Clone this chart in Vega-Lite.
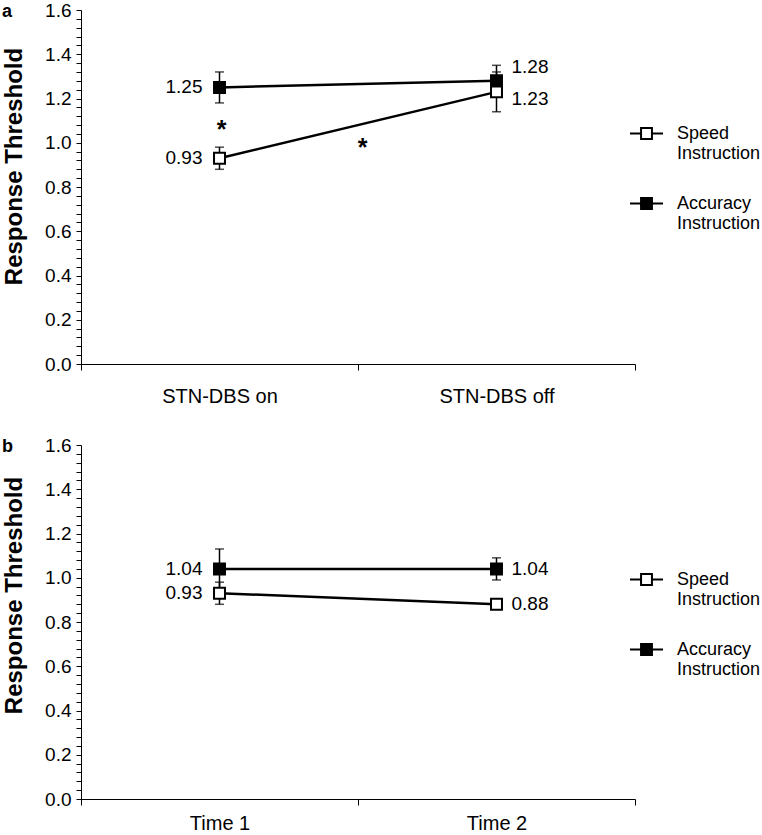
{
  "$schema": "https://vega.github.io/schema/vega-lite/v6.json",
  "padding": {"left": 2, "top": 1, "right": 0, "bottom": 0},
  "spacing": 30,
  "config": {
    "view": {"stroke": null},
    "font": "Liberation Sans",
    "axis": {
      "domainColor": "black", "tickColor": "black", "labelColor": "black", "titleColor": "black",
      "grid": false, "labelFont": "Liberation Sans", "titleFont": "Liberation Sans",
      "labelFontSize": 19, "domainWidth": 1, "tickWidth": 1
    },
    "legend": {
      "labelFont": "Liberation Sans", "labelFontSize": 18, "labelColor": "black"
    }
  },
  "resolve": {
    "scale": {"x": "independent", "y": "independent", "fill": "independent"},
    "legend": {"fill": "independent"}
  },
  "vconcat": [
    {
      "width": 554, "height": 354,
      "title": {"text": "a", "anchor": "start", "frame": "group", "orient": "top", "offset": -20, "dx": -79, "fontSize": 18, "fontWeight": "bold", "font": "Liberation Sans", "color": "black"},
      "data": {"values": [
        {"cond": "STN-DBS on", "instr": "Accuracy Instruction", "v": 1.25, "lo": 1.18, "hi": 1.32},
        {"cond": "STN-DBS off", "instr": "Accuracy Instruction", "v": 1.28, "lo": 1.21, "hi": 1.35},
        {"cond": "STN-DBS on", "instr": "Speed Instruction", "v": 0.93, "lo": 0.88, "hi": 0.98},
        {"cond": "STN-DBS off", "instr": "Speed Instruction", "v": 1.23, "lo": 1.14, "hi": 1.32}
      ]},
      "encoding": {
        "x": {"field": "cond", "type": "nominal", "sort": ["STN-DBS on", "STN-DBS off"],
              "scale": {"paddingInner": 0, "paddingOuter": 0},
              "axis": {"title": null, "labelAngle": 0, "tickBand": "extent", "tickSize": 6, "labelPadding": 16, "labelFontSize": 20}}
      },
      "layer": [
        {"mark": {"type": "rule", "color": "black", "strokeWidth": 1.5},
         "encoding": {"y": {"field": "lo", "type": "quantitative", "scale": {"domain": [0, 1.6], "nice": false},
            "axis": {"title": "Response Threshold", "titleFontSize": 24, "titleFontWeight": "bold", "titlePadding": 18, "titleY": 156, "tickCount": 60,
              "values": [0,0.04,0.08,0.12,0.16,0.2,0.24,0.28,0.32,0.36,0.4,0.44,0.48,0.52,0.56,0.6,0.64,0.68,0.72,0.76,0.8,0.84,0.88,0.92,0.96,1,1.04,1.08,1.12,1.16,1.2,1.24,1.28,1.32,1.36,1.4,1.44,1.48,1.52,1.56,1.6],
              "labelExpr": "abs(datum.value*5 - round(datum.value*5)) < 0.001 ? format(datum.value, '.1f') : ''",
              "labelOverlap": false, "tickSize": 5, "labelPadding": 5}},
           "y2": {"field": "hi"}}},
        {"mark": {"type": "tick", "color": "black", "thickness": 1.5, "size": 9},
         "encoding": {"y": {"field": "lo", "type": "quantitative",
            "axis": {"title": "Response Threshold", "titleFontSize": 24, "titleFontWeight": "bold", "titlePadding": 18, "titleY": 156, "tickCount": 60,
              "values": [0,0.04,0.08,0.12,0.16,0.2,0.24,0.28,0.32,0.36,0.4,0.44,0.48,0.52,0.56,0.6,0.64,0.68,0.72,0.76,0.8,0.84,0.88,0.92,0.96,1,1.04,1.08,1.12,1.16,1.2,1.24,1.28,1.32,1.36,1.4,1.44,1.48,1.52,1.56,1.6],
              "labelExpr": "abs(datum.value*5 - round(datum.value*5)) < 0.001 ? format(datum.value, '.1f') : ''",
              "labelOverlap": false, "tickSize": 5, "labelPadding": 5}}}},
        {"mark": {"type": "tick", "color": "black", "thickness": 1.5, "size": 9},
         "encoding": {"y": {"field": "hi", "type": "quantitative",
            "axis": {"title": "Response Threshold", "titleFontSize": 24, "titleFontWeight": "bold", "titlePadding": 18, "titleY": 156, "tickCount": 60,
              "values": [0,0.04,0.08,0.12,0.16,0.2,0.24,0.28,0.32,0.36,0.4,0.44,0.48,0.52,0.56,0.6,0.64,0.68,0.72,0.76,0.8,0.84,0.88,0.92,0.96,1,1.04,1.08,1.12,1.16,1.2,1.24,1.28,1.32,1.36,1.4,1.44,1.48,1.52,1.56,1.6],
              "labelExpr": "abs(datum.value*5 - round(datum.value*5)) < 0.001 ? format(datum.value, '.1f') : ''",
              "labelOverlap": false, "tickSize": 5, "labelPadding": 5}}}},
        {"mark": {"type": "line", "color": "black", "strokeWidth": 2.5},
         "encoding": {"y": {"field": "v", "type": "quantitative",
            "axis": {"title": "Response Threshold", "titleFontSize": 24, "titleFontWeight": "bold", "titlePadding": 18, "titleY": 156, "tickCount": 60,
              "values": [0,0.04,0.08,0.12,0.16,0.2,0.24,0.28,0.32,0.36,0.4,0.44,0.48,0.52,0.56,0.6,0.64,0.68,0.72,0.76,0.8,0.84,0.88,0.92,0.96,1,1.04,1.08,1.12,1.16,1.2,1.24,1.28,1.32,1.36,1.4,1.44,1.48,1.52,1.56,1.6],
              "labelExpr": "abs(datum.value*5 - round(datum.value*5)) < 0.001 ? format(datum.value, '.1f') : ''",
              "labelOverlap": false, "tickSize": 5, "labelPadding": 5}},
           "detail": {"field": "instr"}}},
        {"mark": {"type": "point", "shape": "square", "size": 120, "filled": true, "stroke": "black", "strokeWidth": 2, "opacity": 1},
         "encoding": {"y": {"field": "v", "type": "quantitative",
            "axis": {"title": "Response Threshold", "titleFontSize": 24, "titleFontWeight": "bold", "titlePadding": 18, "titleY": 156, "tickCount": 60,
              "values": [0,0.04,0.08,0.12,0.16,0.2,0.24,0.28,0.32,0.36,0.4,0.44,0.48,0.52,0.56,0.6,0.64,0.68,0.72,0.76,0.8,0.84,0.88,0.92,0.96,1,1.04,1.08,1.12,1.16,1.2,1.24,1.28,1.32,1.36,1.4,1.44,1.48,1.52,1.56,1.6],
              "labelExpr": "abs(datum.value*5 - round(datum.value*5)) < 0.001 ? format(datum.value, '.1f') : ''",
              "labelOverlap": false, "tickSize": 5, "labelPadding": 5}},
           "fill": {"field": "instr", "type": "nominal",
             "scale": {"domain": ["Speed Instruction", "Accuracy Instruction"], "range": ["white", "black"]},
             "legend": {"orient": "none", "legendX": 548, "legendY": 106, "title": null,
               "symbolType": "M-1,0H-0.33M0.33,0H1M-0.33,-0.33H0.33V0.33H-0.33Z", "symbolSize": 1089,
               "symbolStrokeColor": "black", "symbolStrokeWidth": 2,
               "labelExpr": "split(datum.label, ' ')", "rowPadding": 23, "labelOffset": 13}}}},
        {"transform": [{"filter": "datum.cond == 'STN-DBS on'"}],
         "mark": {"type": "text", "align": "right", "baseline": "middle", "dx": -17, "fontSize": 19, "color": "black"},
         "encoding": {"y": {"field": "v", "type": "quantitative"}, "text": {"field": "v", "format": ".2f"}}},
        {"transform": [{"filter": "datum.cond == 'STN-DBS off' && datum.instr == 'Accuracy Instruction'"}],
         "mark": {"type": "text", "align": "left", "baseline": "middle", "dx": 15, "dy": -14, "fontSize": 19, "color": "black"},
         "encoding": {"y": {"field": "v", "type": "quantitative"}, "text": {"field": "v", "format": ".2f"}}},
        {"transform": [{"filter": "datum.cond == 'STN-DBS off' && datum.instr == 'Speed Instruction'"}],
         "mark": {"type": "text", "align": "left", "baseline": "middle", "dx": 15, "dy": 7, "fontSize": 19, "color": "black"},
         "encoding": {"y": {"field": "v", "type": "quantitative"}, "text": {"field": "v", "format": ".2f"}}},
        {"data": {"values": [{"cond": "STN-DBS on", "v": 1.02, "t": "*"}]},
         "mark": {"type": "text", "align": "center", "baseline": "alphabetic", "dx": 2, "fontSize": 25, "fontWeight": "bold", "color": "black"},
         "encoding": {"y": {"field": "v", "type": "quantitative"}, "text": {"field": "t"}}},
        {"data": {"values": [{"cond": "STN-DBS on", "v": 0.94, "t": "*"}]},
         "mark": {"type": "text", "align": "center", "baseline": "alphabetic", "dx": 143, "fontSize": 25, "fontWeight": "bold", "color": "black"},
         "encoding": {"y": {"field": "v", "type": "quantitative"}, "text": {"field": "t"}}}
      ]
    },
    {
      "width": 554, "height": 354,
      "title": {"text": "b", "anchor": "start", "frame": "group", "orient": "top", "offset": -20, "dx": -79, "fontSize": 18, "fontWeight": "bold", "font": "Liberation Sans", "color": "black"},
      "data": {"values": [
        {"cond": "Time 1", "instr": "Accuracy Instruction", "v": 1.04, "lo": 0.95, "hi": 1.13},
        {"cond": "Time 2", "instr": "Accuracy Instruction", "v": 1.04, "lo": 0.99, "hi": 1.09},
        {"cond": "Time 1", "instr": "Speed Instruction", "v": 0.93, "lo": 0.88, "hi": 0.98},
        {"cond": "Time 2", "instr": "Speed Instruction", "v": 0.88, "lo": 0.87, "hi": 0.89}
      ]},
      "encoding": {
        "x": {"field": "cond", "type": "nominal", "sort": ["Time 1", "Time 2"],
              "scale": {"paddingInner": 0, "paddingOuter": 0},
              "axis": {"title": null, "labelAngle": 0, "tickBand": "extent", "tickSize": 6, "labelPadding": 8, "labelFontSize": 20}}
      },
      "layer": [
        {"mark": {"type": "rule", "color": "black", "strokeWidth": 1.5},
         "encoding": {"y": {"field": "lo", "type": "quantitative", "scale": {"domain": [0, 1.6], "nice": false},
            "axis": {"title": "Response Threshold", "titleFontSize": 24, "titleFontWeight": "bold", "titlePadding": 18, "titleY": 150, "tickCount": 60,
              "values": [0,0.04,0.08,0.12,0.16,0.2,0.24,0.28,0.32,0.36,0.4,0.44,0.48,0.52,0.56,0.6,0.64,0.68,0.72,0.76,0.8,0.84,0.88,0.92,0.96,1,1.04,1.08,1.12,1.16,1.2,1.24,1.28,1.32,1.36,1.4,1.44,1.48,1.52,1.56,1.6],
              "labelExpr": "abs(datum.value*5 - round(datum.value*5)) < 0.001 ? format(datum.value, '.1f') : ''",
              "labelOverlap": false, "tickSize": 5, "labelPadding": 5}},
           "y2": {"field": "hi"}}},
        {"mark": {"type": "tick", "color": "black", "thickness": 1.5, "size": 9},
         "encoding": {"y": {"field": "lo", "type": "quantitative",
            "axis": {"title": "Response Threshold", "titleFontSize": 24, "titleFontWeight": "bold", "titlePadding": 18, "titleY": 150, "tickCount": 60,
              "values": [0,0.04,0.08,0.12,0.16,0.2,0.24,0.28,0.32,0.36,0.4,0.44,0.48,0.52,0.56,0.6,0.64,0.68,0.72,0.76,0.8,0.84,0.88,0.92,0.96,1,1.04,1.08,1.12,1.16,1.2,1.24,1.28,1.32,1.36,1.4,1.44,1.48,1.52,1.56,1.6],
              "labelExpr": "abs(datum.value*5 - round(datum.value*5)) < 0.001 ? format(datum.value, '.1f') : ''",
              "labelOverlap": false, "tickSize": 5, "labelPadding": 5}}}},
        {"mark": {"type": "tick", "color": "black", "thickness": 1.5, "size": 9},
         "encoding": {"y": {"field": "hi", "type": "quantitative",
            "axis": {"title": "Response Threshold", "titleFontSize": 24, "titleFontWeight": "bold", "titlePadding": 18, "titleY": 150, "tickCount": 60,
              "values": [0,0.04,0.08,0.12,0.16,0.2,0.24,0.28,0.32,0.36,0.4,0.44,0.48,0.52,0.56,0.6,0.64,0.68,0.72,0.76,0.8,0.84,0.88,0.92,0.96,1,1.04,1.08,1.12,1.16,1.2,1.24,1.28,1.32,1.36,1.4,1.44,1.48,1.52,1.56,1.6],
              "labelExpr": "abs(datum.value*5 - round(datum.value*5)) < 0.001 ? format(datum.value, '.1f') : ''",
              "labelOverlap": false, "tickSize": 5, "labelPadding": 5}}}},
        {"mark": {"type": "line", "color": "black", "strokeWidth": 2.5},
         "encoding": {"y": {"field": "v", "type": "quantitative",
            "axis": {"title": "Response Threshold", "titleFontSize": 24, "titleFontWeight": "bold", "titlePadding": 18, "titleY": 150, "tickCount": 60,
              "values": [0,0.04,0.08,0.12,0.16,0.2,0.24,0.28,0.32,0.36,0.4,0.44,0.48,0.52,0.56,0.6,0.64,0.68,0.72,0.76,0.8,0.84,0.88,0.92,0.96,1,1.04,1.08,1.12,1.16,1.2,1.24,1.28,1.32,1.36,1.4,1.44,1.48,1.52,1.56,1.6],
              "labelExpr": "abs(datum.value*5 - round(datum.value*5)) < 0.001 ? format(datum.value, '.1f') : ''",
              "labelOverlap": false, "tickSize": 5, "labelPadding": 5}},
           "detail": {"field": "instr"}}},
        {"mark": {"type": "point", "shape": "square", "size": 120, "filled": true, "stroke": "black", "strokeWidth": 2, "opacity": 1},
         "encoding": {"y": {"field": "v", "type": "quantitative",
            "axis": {"title": "Response Threshold", "titleFontSize": 24, "titleFontWeight": "bold", "titlePadding": 18, "titleY": 150, "tickCount": 60,
              "values": [0,0.04,0.08,0.12,0.16,0.2,0.24,0.28,0.32,0.36,0.4,0.44,0.48,0.52,0.56,0.6,0.64,0.68,0.72,0.76,0.8,0.84,0.88,0.92,0.96,1,1.04,1.08,1.12,1.16,1.2,1.24,1.28,1.32,1.36,1.4,1.44,1.48,1.52,1.56,1.6],
              "labelExpr": "abs(datum.value*5 - round(datum.value*5)) < 0.001 ? format(datum.value, '.1f') : ''",
              "labelOverlap": false, "tickSize": 5, "labelPadding": 5}},
           "fill": {"field": "instr", "type": "nominal",
             "scale": {"domain": ["Speed Instruction", "Accuracy Instruction"], "range": ["white", "black"]},
             "legend": {"orient": "none", "legendX": 548, "legendY": 117, "title": null,
               "symbolType": "M-1,0H-0.33M0.33,0H1M-0.33,-0.33H0.33V0.33H-0.33Z", "symbolSize": 1089,
               "symbolStrokeColor": "black", "symbolStrokeWidth": 2,
               "labelExpr": "split(datum.label, ' ')", "rowPadding": 23, "labelOffset": 13}}}},
        {"transform": [{"filter": "datum.cond == 'Time 1'"}],
         "mark": {"type": "text", "align": "right", "baseline": "middle", "dx": -17, "fontSize": 19, "color": "black"},
         "encoding": {"y": {"field": "v", "type": "quantitative"}, "text": {"field": "v", "format": ".2f"}}},
        {"transform": [{"filter": "datum.cond == 'Time 2'"}],
         "mark": {"type": "text", "align": "left", "baseline": "middle", "dx": 15, "fontSize": 19, "color": "black"},
         "encoding": {"y": {"field": "v", "type": "quantitative"}, "text": {"field": "v", "format": ".2f"}}}
      ]
    }
  ]
}
